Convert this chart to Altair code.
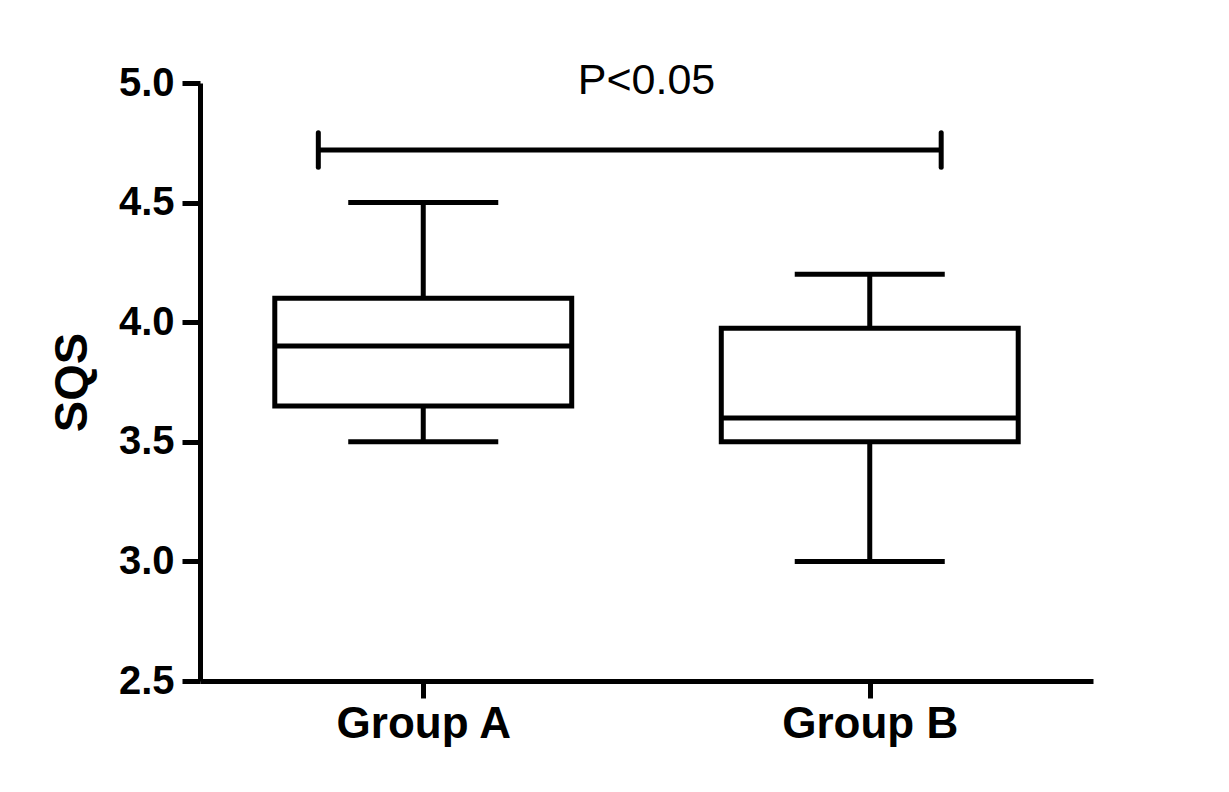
import altair as alt
import pandas as pd

# ---- data ----
groups = ["Group A", "Group B"]
whisker_low = [3.5, 3.0]
q1 = [3.65, 3.5]
median = [3.9, 3.6]
q3 = [4.1, 3.975]
whisker_high = [4.5, 4.2]
y_ticks = [2.5, 3.0, 3.5, 4.0, 4.5, 5.0]
sig_x = [0.53, 3.32]      # span of the significance bracket (x units)
sig_y = [4.72]
sig_label = ["P<0.05"]
sig_label_y = [4.955]

# ---- styles ----
FONT = "Liberation Sans"
LW = 5
BOX_HALF = 0.665
CAP_HALF = 0.336
SIG_END = 0.072

pos = [2 * i + 1 for i in range(len(groups))]
df = pd.DataFrame({
    "group": groups, "pos": pos, "lo": whisker_low, "q1": q1,
    "med": median, "q3": q3, "hi": whisker_high,
})
df["bl"] = df["pos"] - BOX_HALF
df["br"] = df["pos"] + BOX_HALF
df["cl"] = df["pos"] - CAP_HALF
df["cr"] = df["pos"] + CAP_HALF

label_expr = " : ".join(
    [f"datum.value == {p} ? '{g}'" for p, g in zip(pos, groups)] + ["''"]
)

xscale = alt.Scale(domain=[0, 4], nice=False, zero=False)
yscale = alt.Scale(domain=[2.5, 5.0], nice=False, zero=False)
xaxis = alt.Axis(values=pos, labelExpr=label_expr, grid=False, title=None,
                 tickSize=17, tickWidth=LW, domainWidth=LW, domainColor="black",
                 tickColor="black", labelFont=FONT, labelFontSize=44,
                 labelFontWeight="bold", labelColor="black", labelPadding=4)
yaxis = alt.Axis(values=y_ticks, format=".1f", grid=False, title="SQS",
                 tickSize=18, tickWidth=LW, domainWidth=LW, domainColor="black",
                 tickColor="black", labelFont=FONT, labelFontSize=40,
                 labelFontWeight="bold", labelColor="black", labelPadding=8,
                 titleFont=FONT, titleFontSize=47, titleFontWeight="bold",
                 titleColor="black", titlePadding=22)


def X(f):
    return alt.X(f, type="quantitative", scale=xscale, axis=xaxis)


def Y(f):
    return alt.Y(f, type="quantitative", scale=yscale, axis=yaxis)


base = alt.Chart(df)

whisk = base.mark_rule(color="black", strokeWidth=LW).encode(
    x=X("pos"), y=Y("lo"), y2="hi")
cap_lo = base.mark_rule(color="black", strokeWidth=LW).encode(
    x=X("cl"), x2="cr", y=Y("lo"))
cap_hi = base.mark_rule(color="black", strokeWidth=LW).encode(
    x=X("cl"), x2="cr", y=Y("hi"))
box = base.mark_rect(fill="white", stroke="black", strokeWidth=LW,
                     strokeJoin="miter").encode(
    x=X("bl"), x2="br", y=Y("q1"), y2="q3")
med = base.mark_rule(color="black", strokeWidth=LW).encode(
    x=X("bl"), x2="br", y=Y("med"))

sig_df = pd.DataFrame({"x0": [sig_x[0]], "x1": [sig_x[1]], "y": sig_y})
sig_ends = pd.DataFrame({"x": sig_x, "ylo": [sig_y[0] - SIG_END] * 2,
                         "yhi": [sig_y[0] + SIG_END] * 2})
sig_bar = alt.Chart(sig_df).mark_rule(color="black", strokeWidth=LW).encode(
    x=X("x0"), x2="x1", y=Y("y"))
sig_tick = alt.Chart(sig_ends).mark_rule(color="black", strokeWidth=LW,
                                         strokeCap="round").encode(
    x=X("x"), y=Y("ylo"), y2="yhi")

txt_df = pd.DataFrame({"x": [(pos[0] + pos[1]) / 2], "y": sig_label_y,
                       "t": sig_label})
sig_text = alt.Chart(txt_df).mark_text(font=FONT, fontSize=43, color="black",
                                       baseline="alphabetic",
                                       align="center").encode(
    x=X("x"), y=Y("y"), text="t:N")

chart = alt.layer(whisk, cap_lo, cap_hi, box, med, sig_bar, sig_tick,
                  sig_text).properties(
    width=893, height=598,
    autosize=alt.AutoSizeParams(type="none"),
    padding={"left": 192, "top": 75, "right": 120, "bottom": 95},
    background="white",
).configure_view(stroke=None)

chart.save("out.html", embed_options={"renderer": "svg", "actions": False})
